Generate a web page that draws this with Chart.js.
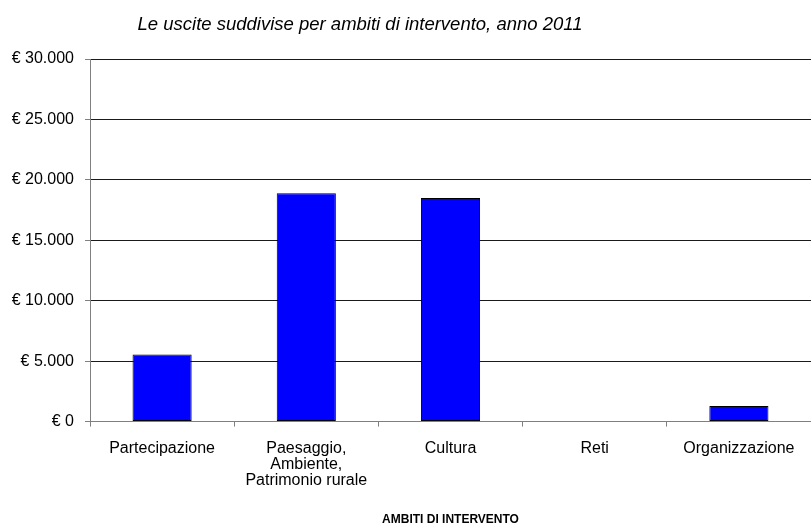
<!DOCTYPE html>
<html>
<head>
<meta charset="utf-8">
<script src="https://cdn.jsdelivr.net/npm/chart.js@4/dist/chart.umd.min.js"></script>
<style>
  html, body { margin: 0; padding: 0; background: #fff; }
  #wrap { width: 811px; height: 532px; position: relative; }
</style>
</head>
<body>
<div id="wrap"><canvas id="c" width="811" height="532"></canvas></div>
<script>
// Spending by area of intervention, 2011 (euro)
const categories = [
  'Partecipazione',
  ['Paesaggio,', 'Ambiente,', 'Patrimonio rurale'],
  'Cultura',
  'Reti',
  'Organizzazione'
];
const uscite = [5550, 18900, 18500, 0, 1300];
const yTicks = [0, 5000, 10000, 15000, 20000, 25000, 30000];

const titleText = 'Le uscite suddivise per ambiti di intervento, anno 2011';
const axisTitle = 'AMBITI DI INTERVENTO';

const FONT = 'Liberation Sans, Arial, sans-serif';

function euro(v) {
  return '€ ' + Math.round(v).toString().replace(/\B(?=(\d{3})+(?!\d))/g, '.');
}

const titlePlugin = {
  id: 'italicTitle',
  afterDraw(chart) {
    const ctx = chart.ctx;
    ctx.save();
    ctx.font = 'italic 18.5px ' + FONT;
    ctx.fillStyle = '#000';
    ctx.textAlign = 'center';
    ctx.textBaseline = 'middle';
    ctx.fillText(titleText, 360, 25);
    ctx.restore();
  }
};

new Chart(document.getElementById('c'), {
  type: 'bar',
  data: {
    labels: categories,
    datasets: [{
      data: uscite,
      backgroundColor: '#0000FF',
      borderColor: '#000',
      borderWidth: 1,
      borderSkipped: false,
      categoryPercentage: 1,
      barPercentage: 0.41
    }]
  },
  options: {
    responsive: false,
    animation: false,
    devicePixelRatio: 1,
    layout: { padding: { top: 59, right: 0, bottom: 5, left: 0 } },
    plugins: {
      legend: { display: false },
      tooltip: { enabled: false }
    },
    scales: {
      x: {
        offset: true,
        grid: {
          offset: true,
          drawOnChartArea: false,
          drawTicks: true,
          tickLength: 5,
          tickColor: '#808080'
        },
        border: { display: true, color: '#808080', width: 1 },
        ticks: {
          color: '#000',
          font: { family: FONT, size: 16, lineHeight: 1.0 },
          padding: 14,
          maxRotation: 0,
          autoSkip: false
        },
        title: {
          display: true,
          text: axisTitle,
          color: '#000',
          font: { family: FONT, size: 12, weight: 'bold' },
          padding: { top: 10, bottom: 0 }
        }
      },
      y: {
        min: 0,
        max: 30000,
        afterBuildTicks(scale) {
          scale.ticks = yTicks.map(v => ({ value: v }));
        },
        afterFit(scale) { scale.width = 90; },
        grid: {
          color: '#1a1a1a',
          lineWidth: 1,
          drawTicks: true,
          tickLength: 5,
          tickColor: '#808080'
        },
        border: { display: true, color: '#808080', width: 1 },
        ticks: {
          color: '#000',
          font: { family: FONT, size: 16 },
          padding: 11,
          callback: v => euro(v)
        }
      }
    }
  },
  plugins: [titlePlugin]
});
</script>
</body>
</html>
